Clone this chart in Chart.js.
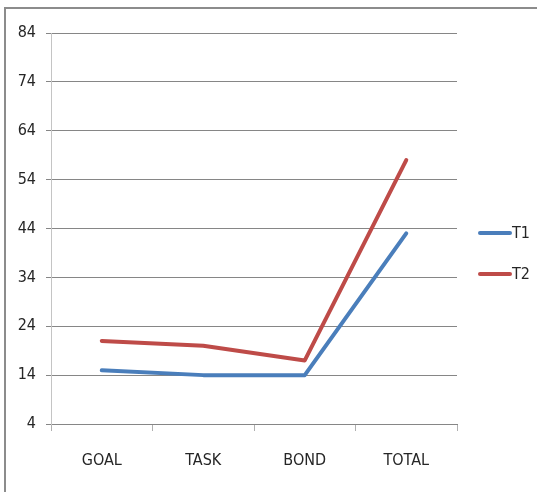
<!DOCTYPE html>
<html>
<head>
<meta charset="utf-8">
<script src="https://cdn.jsdelivr.net/npm/chart.js@4/dist/chart.umd.min.js"></script>
<style>
  html, body { margin: 0; padding: 0; background: #fff; }
  #wrap { position: relative; width: 537px; height: 492px; overflow: hidden; }
  #frame { position: absolute; left: 4px; top: 7px; right: -10px; bottom: -10px;
           border-top: 2px solid #8c8c8c; border-left: 2px solid #8c8c8c; }
  canvas { position: absolute; left: 0; top: 0; }
</style>
</head>
<body>
<div id="wrap">
  <div id="frame"></div>
  <canvas id="c" width="537" height="492"></canvas>
</div>
<script>
const categories = ['GOAL', 'TASK', 'BOND', 'TOTAL'];
const seriesNames = ['T1', 'T2'];
const t1Values = [15, 14, 14, 43];
const t2Values = [21, 20, 17, 58];
const yTicks = [4, 14, 24, 34, 44, 54, 64, 74, 84];

const FONT = "'Liberation Sans Narrow', 'DejaVu Sans Condensed', sans-serif";
const TEXT = '#262626';

// Legend drawn to the right of the plot: a short line sample followed by the series name
const sideLegend = {
  id: 'sideLegend',
  afterDraw(chart) {
    const ctx = chart.ctx;
    const x0 = 480, y0 = 233, gap = 41;
    ctx.save();
    ctx.font = '16px ' + FONT;
    ctx.textBaseline = 'middle';
    ctx.textAlign = 'left';
    chart.data.datasets.forEach((ds, i) => {
      const y = y0 + i * gap;
      ctx.strokeStyle = ds.borderColor;
      ctx.lineWidth = ds.borderWidth;
      ctx.lineCap = 'round';
      ctx.beginPath();
      ctx.moveTo(x0, y);
      ctx.lineTo(x0 + 30, y);
      ctx.stroke();
      ctx.fillStyle = TEXT;
      ctx.fillText(ds.label, x0 + 32, y + 1);
    });
    ctx.restore();
  }
};

new Chart(document.getElementById('c'), {
  type: 'line',
  data: {
    labels: categories,
    datasets: [
      { label: seriesNames[0], data: t1Values, borderColor: '#4a7ebb', borderWidth: 4,
        pointRadius: 0, tension: 0, fill: false, borderJoinStyle: 'round', borderCapStyle: 'round' },
      { label: seriesNames[1], data: t2Values, borderColor: '#be4b48', borderWidth: 4,
        pointRadius: 0, tension: 0, fill: false, borderJoinStyle: 'round', borderCapStyle: 'round' }
    ]
  },
  options: {
    responsive: false,
    animation: false,
    layout: { padding: { left: 0, right: 80, top: 33, bottom: 0 } },
    plugins: { legend: { display: false }, tooltip: { enabled: false } },
    scales: {
      x: {
        offset: true,
        grid: { offset: true, drawOnChartArea: false, drawTicks: true, tickLength: 7, color: '#b0b0b0' },
        border: { display: true, color: '#868686', width: 1 },
        ticks: { color: TEXT, font: { family: FONT, size: 16 }, padding: 20, maxRotation: 0 },
        afterFit(scale) { scale.height = 68; }
      },
      y: {
        min: 4,
        max: 84,
        afterBuildTicks(scale) { scale.ticks = yTicks.map(v => ({ value: v })); },
        grid: { color: '#868686', lineWidth: 1, drawTicks: true, tickLength: 5 },
        border: { display: true, color: '#c4c4c4', width: 1 },
        ticks: { color: TEXT, font: { family: FONT, size: 16 }, padding: 10 },
        afterFit(scale) { scale.width = 51; }
      }
    }
  },
  plugins: [sideLegend]
});
</script>
</body>
</html>
